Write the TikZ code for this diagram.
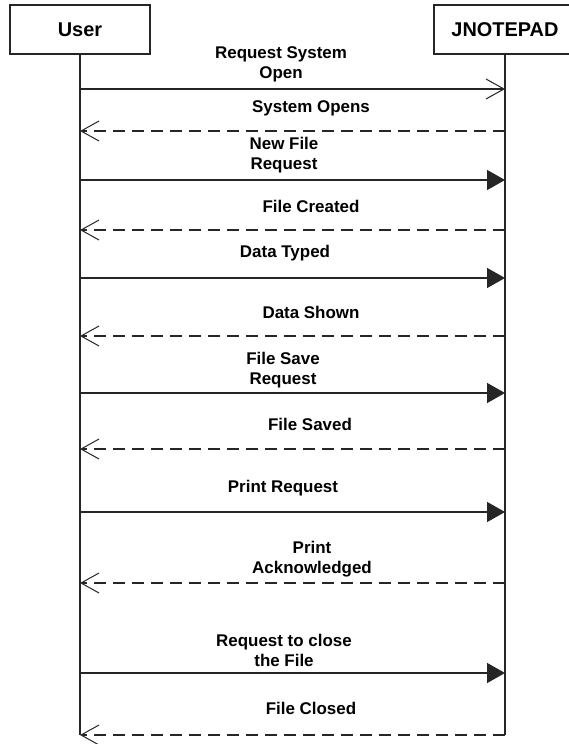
\documentclass[tikz,border=0pt]{standalone}
\usepackage{fontspec}
\setmainfont{Liberation Sans}
\usetikzlibrary{arrows.meta}
\begin{document}
\begin{tikzpicture}[x=1bp,y=-1bp,
  actor/.style={draw=black!85, line width=1.5bp, minimum height=49bp, inner sep=0pt,
    font=\fontsize{20}{22}\selectfont\bfseries},
  lifeline/.style={draw=black!85, line width=1.3bp},
  callmsg/.style={draw=black!85, line width=1.5bp, -{Triangle[length=18bp,width=20bp]}},
  openmsg/.style={draw=black!85, line width=1.5bp, -{Straight Barb[length=18bp,width=20bp,line width=1bp]}},
  retmsg/.style={draw=black!85, line width=1.5bp, dash pattern=on 12bp off 7bp,
    -{Straight Barb[length=18bp,width=20bp,line width=1bp]}},
  lbl/.style={font=\fontsize{17}{20}\selectfont\bfseries, align=center, inner sep=0pt}]
\useasboundingbox (0,0) rectangle (569,744);
\fill[white] (0,0) rectangle (569,744);

\node[actor, minimum width=140bp] (user) at (80,29.5) {User};
\node[actor, minimum width=142bp] (jnp) at (505,29.5) {JNOTEPAD\hspace{8bp}};

\coordinate (uend) at (80,735);
\coordinate (jend) at (505,735);
\draw[lifeline] (user.south) -- (uend);
\draw[lifeline] (jnp.south) -- (jend);

\foreach \i/\yy in {1/89,2/131,3/180,4/230,5/278,6/336,7/393,8/449,9/512,10/583,11/673,12/735}{
  \coordinate (u\i) at (80,\yy);
  \coordinate (j\i) at (505,\yy);
}

\draw[openmsg] (u1) -- (j1);
\draw[retmsg] (j2) -- (u2);
\draw[callmsg] (u3) -- (j3);
\draw[retmsg] (j4) -- (u4);
\draw[callmsg] (u5) -- (j5);
\draw[retmsg] (j6) -- (u6);
\draw[callmsg] (u7) -- (j7);
\draw[retmsg] (j8) -- (u8);
\draw[callmsg] (u9) -- (j9);
\draw[retmsg] (j10) -- (u10);
\draw[callmsg] (u11) -- (j11);
\draw[retmsg] (j12) -- (u12);

\node[lbl] (l1) at (281,64) {Request System\\Open};
\node[lbl] (l2) at (311,108) {System Opens};
\node[lbl] (l3) at (284,155) {New File\\Request};
\node[lbl] (l4) at (311,206) {File Created};
\node[lbl] (l5) at (285,253) {Data Typed};
\node[lbl] (l6) at (311,312) {Data Shown};
\node[lbl] (l7) at (283,370) {File Save\\Request};
\node[lbl] (l8) at (310,424) {File Saved};
\node[lbl] (l9) at (283,488) {Print Request};
\node[lbl] (l10) at (312,559) {Print\\Acknowledged};
\node[lbl] (l11) at (284,650) {Request to close\\the File};
\node[lbl] (l12) at (311,708) {File Closed};
\end{tikzpicture}
\end{document}
